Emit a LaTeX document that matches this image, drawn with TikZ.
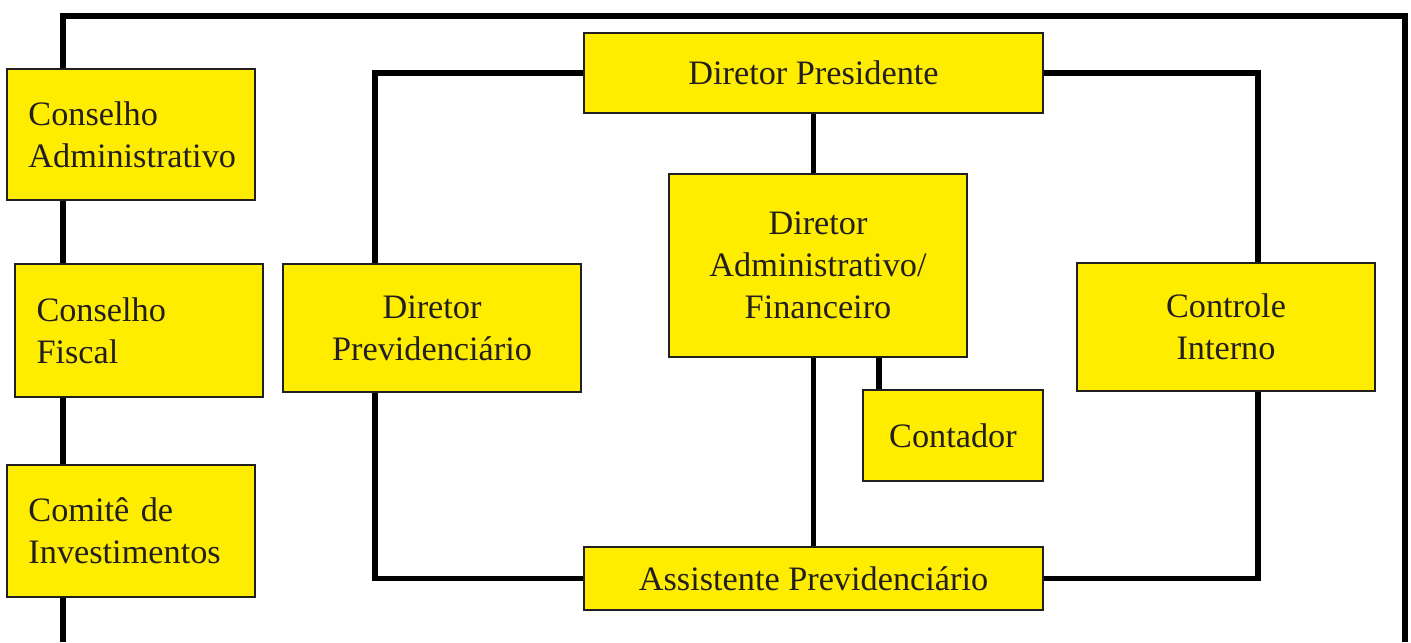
\documentclass[tikz,border=0pt]{standalone}
\usepackage{fontspec}
\setmainfont{Liberation Serif}
\usepackage{tikz}
\usetikzlibrary{backgrounds}
\definecolor{boxyellow}{RGB}{255,237,0}
\definecolor{boxline}{RGB}{35,31,32}

\begin{document}
\begin{tikzpicture}[
        orgbox/.style={draw=boxline, line width=1.2pt, fill=boxyellow, text=boxline,
            font=\fontsize{19.5}{24}\selectfont, align=center, inner sep=0pt},
        sidebox/.style={orgbox, align=left, text width=4.1cm},
        link/.style={line width=2.9pt, black, line join=miter}
    ]
        \useasboundingbox (0,0) rectangle (28.22,-12.84);

        \node[sidebox, minimum width=4.96cm, minimum height=2.62cm] (cadm) at (2.62,-2.69) {Conselho\\ Administrativo};
        \node[sidebox, minimum width=4.96cm, minimum height=2.66cm] (cfis) at (2.78,-6.61) {Conselho\\Fiscal};
        \node[sidebox, minimum width=4.96cm, minimum height=2.64cm] (cinv) at (2.62,-10.62) {Comit\^e de\\Investimentos};

        \node[orgbox, minimum width=9.18cm, minimum height=1.6cm] (dpres) at (16.27,-1.46) {Diretor Presidente};
        \node[orgbox, minimum width=5.96cm, minimum height=2.56cm] (dprev) at (8.64,-6.56) {Diretor\\Previdenci\'ario};
        \node[orgbox, minimum width=5.96cm, minimum height=3.66cm] (dadm) at (16.36,-5.31) {Diretor\\Administrativo/\\Financeiro};
        \node[orgbox, minimum width=3.6cm, minimum height=1.82cm] (cont) at (19.06,-8.71) {Contador};
        \node[orgbox, minimum width=5.96cm, minimum height=2.56cm] (ctrl) at (24.52,-6.54) {Controle\\Interno};
        \node[orgbox, minimum width=9.18cm, minimum height=1.26cm] (assist) at (16.27,-11.57) {Assistente Previdenci\'ario};

        \coordinate (lx) at (7.5,0);
        \coordinate (rx) at (25.16,0);
        \coordinate (cx) at (17.58,0);
        \coordinate (fbl) at (1.26,-12.84);
        \coordinate (ftl) at (1.26,-0.32);
        \coordinate (ftr) at (28.1,-0.32);
        \coordinate (fbr) at (28.1,-12.84);

        \begin{scope}[on background layer]
            % outer frame
            \draw[link] (fbl) -- (ftl) -- (ftr) -- (fbr);
            \draw[link] (dprev.north -| lx) |- (dpres.west);
            \draw[link] (dprev.south -| lx) |- (assist.west);
            \draw[link] (ctrl.north -| rx) |- (dpres.east);
            \draw[link] (ctrl.south -| rx) |- (assist.east);
            \draw[link] (dpres.south) -- (dpres.south |- dadm.north);
            \draw[link] (assist.north |- dadm.south) -- (assist.north);
            \draw[link] (cx |- dadm.south) -- (cx |- cont.north);
        \end{scope}
    \end{tikzpicture}
\end{document}
